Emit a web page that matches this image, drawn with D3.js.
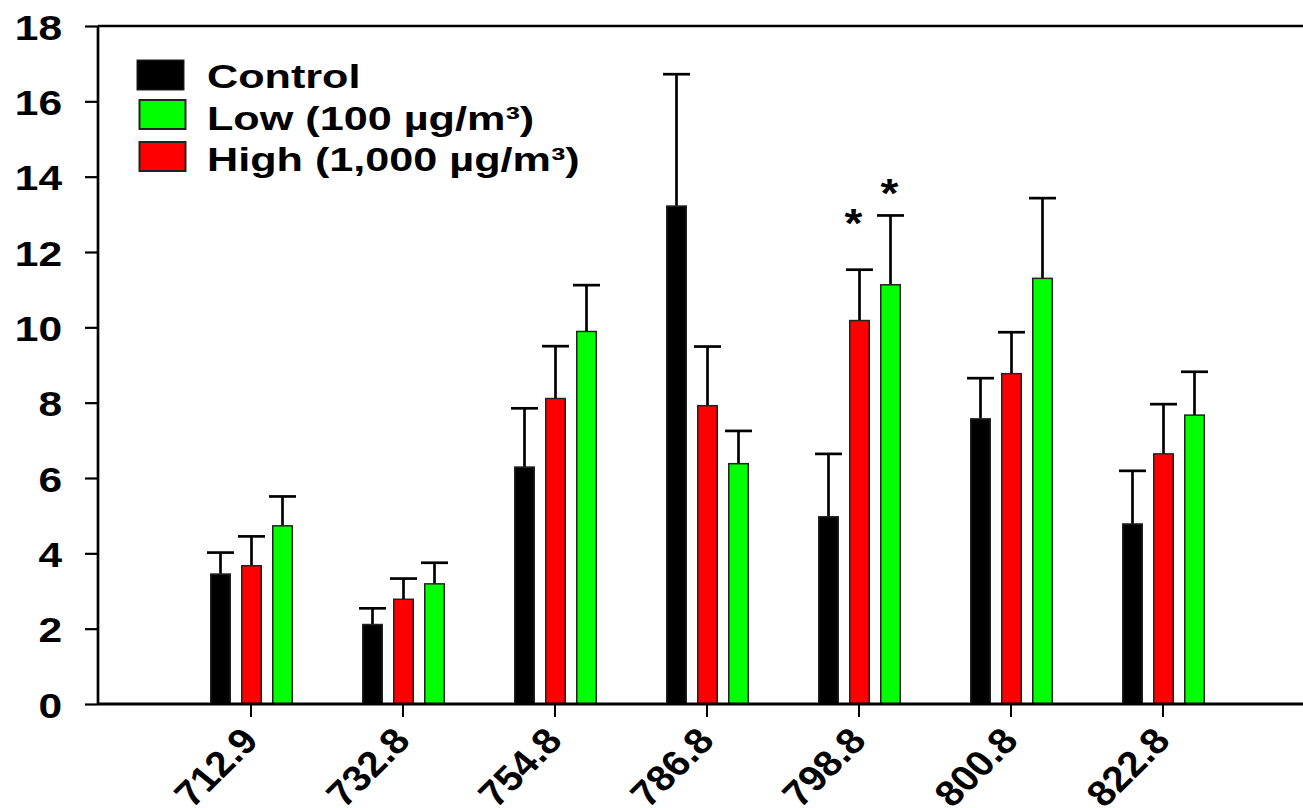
<!DOCTYPE html>
<html><head><meta charset="utf-8">
<script src="https://cdn.jsdelivr.net/npm/d3@7"></script>
<style>html,body{margin:0;padding:0;background:#fff;} svg{display:block;font-family:Arial,"Liberation Sans",sans-serif;font-weight:bold;}</style>
</head><body>
<svg id="c" width="1303" height="808"></svg>
<script>
const categories = ["712.9","732.8","754.8","786.8","798.8","800.8","822.8"];
const seriesNames = ["Control","High (1,000 µg/m³)","Low (100 µg/m³)"];
const controlMean = [3.45, 2.11, 6.29, 13.22, 4.97, 7.57, 4.78];
const controlErr  = [4.02, 2.54, 7.85, 16.72, 6.64, 8.65, 6.19];
const highMean    = [3.67, 2.78, 8.11, 7.92, 10.18, 8.77, 6.64];
const highErr     = [4.45, 3.33, 9.50, 9.49, 11.53, 9.87, 7.96];
const lowMean     = [4.73, 3.19, 9.89, 6.38, 11.13, 11.30, 7.67];
const lowErr      = [5.51, 3.75, 11.12, 7.25, 12.97, 13.43, 8.82];
const yTicks = [0,2,4,6,8,10,12,14,16,18];
const legendOrder = ["Control","Low (100 µg/m³)","High (1,000 µg/m³)"];
const colors = {"Control":"#000000","Low (100 µg/m³)":"#00ff00","High (1,000 µg/m³)":"#ff0000"};
const sigCats   = ["798.8","798.8"];
const sigSeries = ["High (1,000 µg/m³)","Low (100 µg/m³)"];
const sigLevel  = [13.05, 13.85];

const svg = d3.select("#c");
const pLeft = 98, pRight = 1303, pTop = 26, pBottom = 704;
const y = d3.scaleLinear().domain([0,18]).range([pBottom, pTop]);
const x = d3.scaleBand().domain(categories).range([175, 175 + 152*7]).padding(0);
const sub = d3.scaleBand().domain(seriesNames).range([-46, 47]).paddingInner(0.0);
const barW = 19.5;

const data = [];
categories.forEach((c,i)=>{
  data.push({cat:c, s:seriesNames[0], v:controlMean[i], e:controlErr[i]});
  data.push({cat:c, s:seriesNames[1], v:highMean[i], e:highErr[i]});
  data.push({cat:c, s:seriesNames[2], v:lowMean[i], e:lowErr[i]});
});
const bx = d => x(d.cat) + x.bandwidth()/2 + sub(d.s) + sub.bandwidth()/2;

// error bars
const eb = svg.append("g").attr("stroke","#000").attr("stroke-width",2.7);
eb.selectAll("line.v").data(data).join("line").attr("class","v")
  .attr("x1",bx).attr("x2",bx).attr("y1",d=>y(d.v)).attr("y2",d=>y(d.e));
eb.selectAll("line.c").data(data).join("line").attr("class","c")
  .attr("x1",d=>bx(d)-13.5).attr("x2",d=>bx(d)+13.5).attr("y1",d=>y(d.e)).attr("y2",d=>y(d.e));

// bars
svg.append("g").selectAll("rect").data(data).join("rect")
  .attr("x",d=>bx(d)-barW/2).attr("width",barW)
  .attr("y",d=>y(d.v)).attr("height",d=>pBottom-y(d.v))
  .attr("fill",d=>colors[d.s]).attr("stroke","#222").attr("stroke-width",1.5);

// axes
const yAxis = d3.axisLeft(y).tickValues(yTicks).tickSize(13).tickPadding(0).tickFormat(d3.format("d"));
const gy = svg.append("g").attr("transform",`translate(${pLeft},0)`).call(yAxis);
gy.select(".domain").remove();
gy.selectAll(".tick line").attr("stroke","#000").attr("stroke-width",2.2);
gy.selectAll(".tick text").remove();
gy.selectAll(".tick").append("text")
  .attr("transform",`translate(-36,13) scale(1.18,1)`)
  .attr("text-anchor","end").attr("fill","#000").attr("font-size",36).attr("font-weight","bold")
  .attr("font-family","Arial, 'Liberation Sans', sans-serif")
  .text(d=>d);

svg.append("line").attr("x1",pLeft).attr("x2",pLeft).attr("y1",pTop).attr("y2",pBottom).attr("stroke","#000").attr("stroke-width",2.7);
svg.append("line").attr("x1",pLeft).attr("x2",pRight).attr("y1",pTop).attr("y2",pTop).attr("stroke","#000").attr("stroke-width",2.7);

const xAxis = d3.axisBottom(x).tickSize(13).tickSizeOuter(0);
const gx = svg.append("g").attr("transform",`translate(0,${pBottom})`).call(xAxis);
gx.select(".domain").remove();
gx.selectAll(".tick line").attr("stroke","#000").attr("stroke-width",2);
gx.selectAll(".tick text").remove();
gx.selectAll(".tick").append("text")
  .attr("transform",`translate(9,38) scale(1.12,1) rotate(-48)`)
  .attr("text-anchor","end").attr("fill","#000").attr("font-size",36).attr("font-weight","bold")
  .attr("font-family","Arial, 'Liberation Sans', sans-serif")
  .text(d=>d);
svg.append("line").attr("x1",pLeft).attr("x2",pRight).attr("y1",pBottom).attr("y2",pBottom).attr("stroke","#000").attr("stroke-width",3);

// significance asterisks
svg.append("g").selectAll("text").data(sigCats.map((c,i)=>({cat:c, s:sigSeries[i], lv:sigLevel[i]}))).join("text")
  .attr("transform",(d,i)=>`translate(${bx(d)-(i===0?6:1)},${y(d.lv)}) scale(1.15,1)`)
  .attr("text-anchor","middle").attr("font-size",40).attr("font-weight","bold").attr("fill","#000")
  .attr("dy","0.62em").text("*");

// legend
const lg = svg.append("g");
const ly = [60, 100, 142];
const lbase = [88, 130, 171];
legendOrder.forEach((n,i)=>{
  lg.append("rect").attr("x", i===0?137:139.5).attr("y",ly[i]).attr("width",i===0?47:46).attr("height",i===0?30:29)
    .attr("fill",colors[n]).attr("stroke","#222").attr("stroke-width",i===0?1:2);
  lg.append("text").attr("transform",`translate(207,${lbase[i]}) scale(1.27,1)`)
    .attr("font-size",34).attr("font-weight","bold").attr("fill","#000").text(n);
});
</script>
</body></html>
